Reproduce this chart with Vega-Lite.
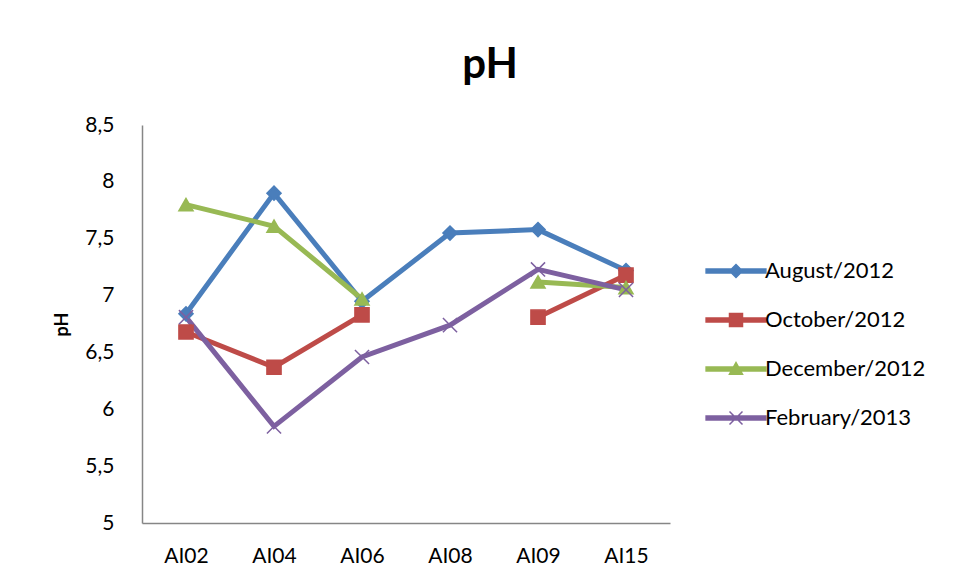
{
  "$schema": "https://vega.github.io/schema/vega-lite/v6.json",
  "autosize": {"type": "none"},
  "padding": {"left": 142, "top": 125, "right": 287, "bottom": 60},
  "width": 528,
  "height": 398,
  "background": "white",
  "config": {
    "font": "Lato",
    "view": {"stroke": null}
  },
  "title": {
    "text": "pH",
    "fontSize": 42,
    "fontWeight": "bold",
    "color": "black",
    "anchor": "middle",
    "frame": "group",
    "dx": 84,
    "offset": 27
  },
  "data": {
    "values": [
      {"site": "AI02", "month": "August/2012", "ph": 6.84},
      {"site": "AI04", "month": "August/2012", "ph": 7.9},
      {"site": "AI06", "month": "August/2012", "ph": 6.95},
      {"site": "AI08", "month": "August/2012", "ph": 7.55},
      {"site": "AI09", "month": "August/2012", "ph": 7.58},
      {"site": "AI15", "month": "August/2012", "ph": 7.22},
      {"site": "AI02", "month": "October/2012", "ph": 6.68},
      {"site": "AI04", "month": "October/2012", "ph": 6.37},
      {"site": "AI06", "month": "October/2012", "ph": 6.83},
      {"site": "AI08", "month": "October/2012", "ph": null},
      {"site": "AI09", "month": "October/2012", "ph": 6.81},
      {"site": "AI15", "month": "October/2012", "ph": 7.18},
      {"site": "AI02", "month": "December/2012", "ph": 7.8},
      {"site": "AI04", "month": "December/2012", "ph": 7.61},
      {"site": "AI06", "month": "December/2012", "ph": 6.97},
      {"site": "AI08", "month": "December/2012", "ph": null},
      {"site": "AI09", "month": "December/2012", "ph": 7.12},
      {"site": "AI15", "month": "December/2012", "ph": 7.07},
      {"site": "AI02", "month": "February/2013", "ph": 6.81},
      {"site": "AI04", "month": "February/2013", "ph": 5.85},
      {"site": "AI06", "month": "February/2013", "ph": 6.46},
      {"site": "AI08", "month": "February/2013", "ph": 6.74},
      {"site": "AI09", "month": "February/2013", "ph": 7.23},
      {"site": "AI15", "month": "February/2013", "ph": 7.05}
    ]
  },
  "transform": [
    {"calculate": "datum.month", "as": "marker"}
  ],
  "encoding": {
    "x": {
      "field": "site",
      "type": "ordinal",
      "sort": ["AI02", "AI04", "AI06", "AI08", "AI09", "AI15"],
      "scale": {"type": "point", "padding": 0.5},
      "axis": {
        "title": null,
        "labelAngle": 0,
        "labelFontSize": 21,
        "labelColor": "black",
        "labelPadding": 22,
        "ticks": false,
        "domainColor": "#868686",
        "domainWidth": 1.5,
        "grid": false
      }
    },
    "y": {
      "field": "ph",
      "type": "quantitative",
      "scale": {"domain": [5, 8.5], "nice": false, "zero": false},
      "axis": {
        "title": "pH",
        "titleFontSize": 18,
        "titleFontWeight": "bold",
        "titleColor": "black",
        "titlePadding": 13,
        "values": [5, 5.5, 6, 6.5, 7, 7.5, 8, 8.5],
        "labelExpr": "replace(format(datum.value, '~g'), '.', ',')",
        "labelFontSize": 21,
        "labelColor": "black",
        "labelPadding": 28,
        "ticks": false,
        "domainColor": "#868686",
        "domainWidth": 1.5,
        "grid": false
      }
    },
    "color": {
      "field": "month",
      "type": "nominal",
      "sort": ["August/2012", "October/2012", "December/2012", "February/2013"],
      "scale": {
        "domain": ["August/2012", "October/2012", "December/2012", "February/2013"],
        "range": ["#4A7EBB", "#BE4B48", "#98B954", "#7D60A0"]
      },
      "legend": {
        "title": null,
        "orient": "none",
        "legendX": 583,
        "legendY": 135,
        "labelFontSize": 22,
        "labelColor": "black",
        "labelLimit": 400,
        "labelOffset": 18,
        "rowPadding": 27,
        "symbolSize": 169,
        "symbolStrokeWidth": 1.5,
        "symbolOpacity": 1,
        "encode": {
          "symbols": {
            "update": {
              "shape": {"signal": "(datum.value === 'August/2012' ? 'M-1,0L0,-1L1,0L0,1Z' : datum.value === 'October/2012' ? 'M-1,-1L1,-1L1,1L-1,1Z' : datum.value === 'December/2012' ? 'M-1,0.8L0,-1L1,0.8Z' : 'M-1,-1L1,1M-1,1L1,-1') + 'M-4.6,-0.3L4.6,-0.3L4.6,0.3L-4.6,0.3Z'"},
              "fill": {"scale": "color", "field": "value"},
              "stroke": {"scale": "color", "field": "value"},
              "strokeWidth": {"value": 1.5}
            }
          }
        }
      }
    }
  },
  "layer": [
    {
      "mark": {"type": "line", "strokeWidth": 5, "invalid": "break-paths-show-domains"}
    },
    {
      "mark": {"type": "point", "filled": true, "opacity": 1, "size": 200, "strokeWidth": 1.5},
      "encoding": {
        "shape": {
          "field": "marker",
          "type": "nominal",
          "sort": ["August/2012", "October/2012", "December/2012", "February/2013"],
          "scale": {
            "range": ["diamond", "square", "triangle-up", "M-1,-1L1,1M-1,1L1,-1"]
          },
          "legend": null
        },
        "stroke": {
          "field": "month",
          "type": "nominal",
          "scale": {
            "domain": ["August/2012", "October/2012", "December/2012", "February/2013"],
            "range": ["#4A7EBB", "#BE4B48", "#98B954", "#7D60A0"]
          },
          "legend": null
        }
      }
    }
  ]
}
